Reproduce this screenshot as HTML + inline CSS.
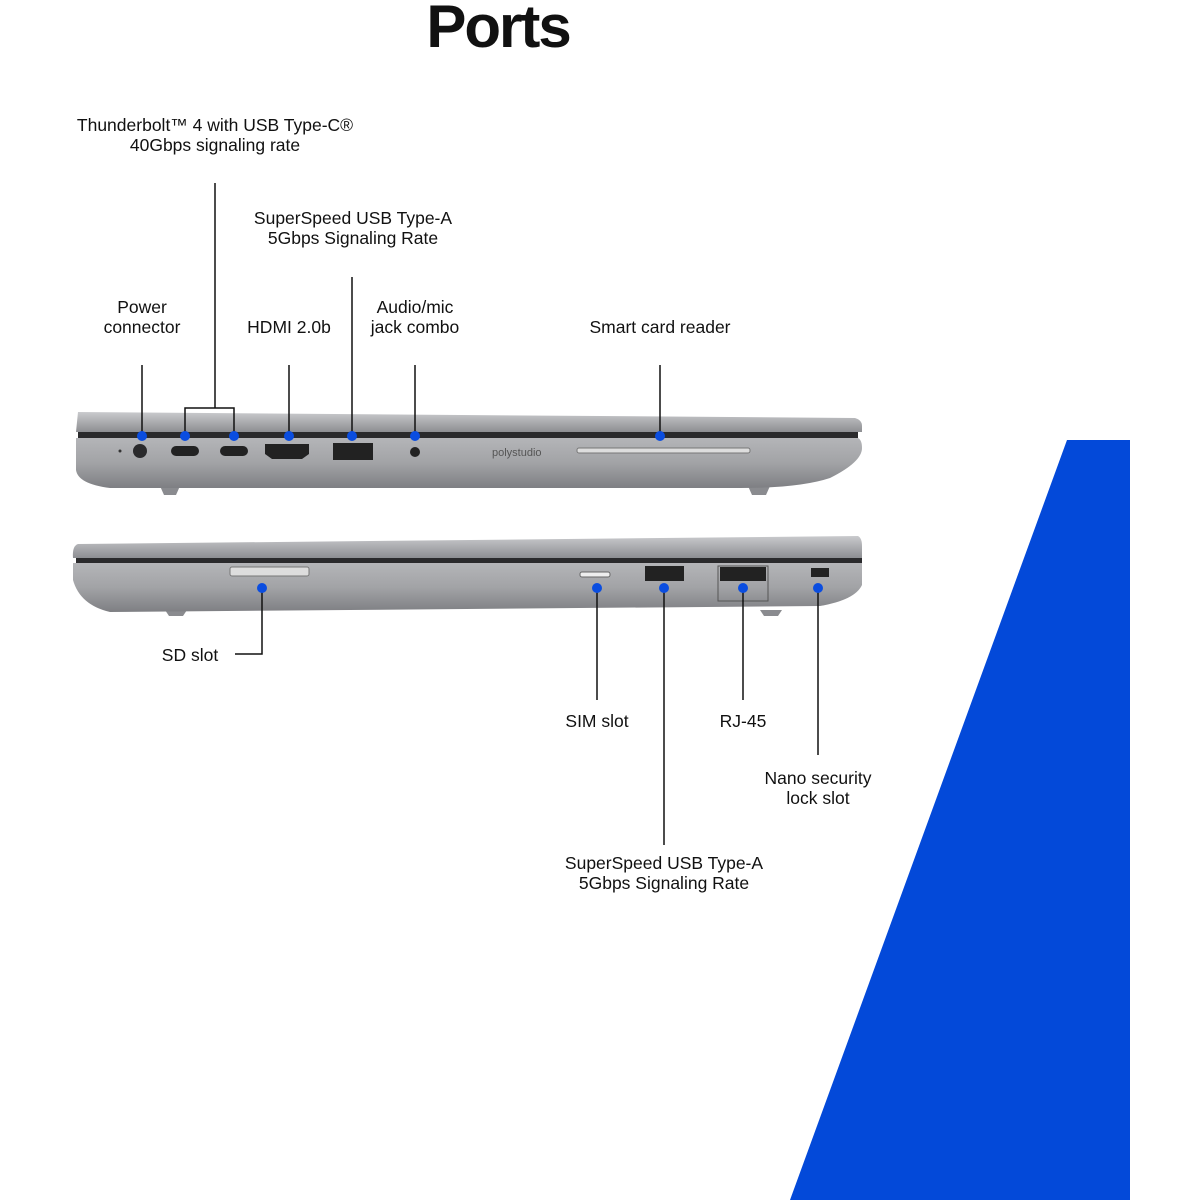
<!DOCTYPE html>
<html><head><meta charset="utf-8"><style>
html,body{margin:0;padding:0;background:#fff;}
svg{display:block;}
text{font-family:"Liberation Sans",sans-serif;fill:#111;font-size:17.5px;}
</style></head><body>
<svg width="1200" height="1200" viewBox="0 0 1200 1200" xmlns="http://www.w3.org/2000/svg">
<defs>
<linearGradient id="lid" x1="0" y1="0" x2="0" y2="1"><stop offset="0" stop-color="#c9cacd"/><stop offset="1" stop-color="#8d8e92"/></linearGradient>
<linearGradient id="base" x1="0" y1="0" x2="0" y2="1"><stop offset="0" stop-color="#b4b5b8"/><stop offset="0.5" stop-color="#a2a3a6"/><stop offset="1" stop-color="#7e7f83"/></linearGradient>
</defs>
<polygon points="1067,440 1130,440 1130,1200 790,1200" fill="#0349d9"/>
<text x="498" y="47" text-anchor="middle" style="font-size:60px;font-weight:bold;letter-spacing:-2px">Ports</text>

<!-- top laptop -->
<path d="M160,486 L180,486 L176,495 L164,495 Z" fill="#8a8b8f"/>
<path d="M748,486 L770,486 L766,495 L752,495 Z" fill="#8a8b8f"/>
<path d="M78,412 L855,418 Q862,420 862,426 L862,432 L76,432 Z" fill="url(#lid)"/>
<rect x="78" y="432" width="780" height="6" fill="#2a2a2c"/>
<path d="M76,438 L858,438 Q862,440 862,448 Q862,462 830,478 Q800,488 740,488 L110,488 Q78,484 76,470 Z" fill="url(#base)"/>
<circle cx="140" cy="451" r="7" fill="#2a2a2c"/><circle cx="120" cy="451" r="1.5" fill="#333"/>
<rect x="171" y="446" width="28" height="10" rx="5" fill="#222"/>
<rect x="220" y="446" width="28" height="10" rx="5" fill="#222"/>
<path d="M265,444 L309,444 L309,454 L302,459 L272,459 L265,454 Z" fill="#222"/>
<rect x="333" y="443" width="40" height="17" fill="#222"/>
<circle cx="415" cy="452" r="5" fill="#222"/>
<text x="492" y="456" style="font-size:11px;fill:#555">polystudio</text>
<rect x="577" y="448" width="173" height="5" rx="2" fill="#ddd" stroke="#777" stroke-width="1"/>

<!-- bottom laptop -->
<path d="M165,610 L187,610 L183,616 L169,616 Z" fill="#8a8b8f"/>
<path d="M760,610 L782,610 L778,616 L764,616 Z" fill="#8a8b8f"/>
<path d="M78,544 L858,536 Q862,538 862,546 L862,558 L73,558 Q72,546 78,544 Z" fill="url(#lid)"/>
<rect x="76" y="558" width="786" height="5" fill="#2a2a2c"/>
<path d="M73,563 L862,563 L862,585 Q855,600 820,606 L110,612 Q80,605 73,580 Z" fill="url(#base)"/>
<rect x="230" y="567" width="79" height="9" rx="2" fill="#ddd" stroke="#777"/>
<rect x="580" y="572" width="30" height="5" rx="2" fill="#eee" stroke="#666"/>
<rect x="645" y="566" width="39" height="15" fill="#222"/>
<rect x="718" y="566" width="50" height="35" fill="none" stroke="#555"/>
<rect x="720" y="567" width="46" height="14" fill="#222"/>
<rect x="811" y="568" width="18" height="9" fill="#222"/>

<!-- leader lines -->
<g stroke="#111" stroke-width="1.5" fill="none">
<line x1="142" y1="365" x2="142" y2="436"/>
<line x1="215" y1="183" x2="215" y2="408"/>
<polyline points="185,436 185,408 234,408 234,436"/>
<line x1="289" y1="365" x2="289" y2="436"/>
<line x1="352" y1="277" x2="352" y2="436"/>
<line x1="415" y1="365" x2="415" y2="436"/>
<line x1="660" y1="365" x2="660" y2="436"/>
<polyline points="262,588 262,654 235,654"/>
<line x1="597" y1="588" x2="597" y2="700"/>
<line x1="664" y1="588" x2="664" y2="845"/>
<line x1="743" y1="588" x2="743" y2="700"/>
<line x1="818" y1="588" x2="818" y2="755"/>
</g>
<g fill="#0a4de0">
<circle cx="142" cy="436" r="5"/><circle cx="185" cy="436" r="5"/><circle cx="234" cy="436" r="5"/>
<circle cx="289" cy="436" r="5"/><circle cx="352" cy="436" r="5"/><circle cx="415" cy="436" r="5"/><circle cx="660" cy="436" r="5"/>
<circle cx="262" cy="588" r="5"/><circle cx="597" cy="588" r="5"/><circle cx="664" cy="588" r="5"/><circle cx="743" cy="588" r="5"/><circle cx="818" cy="588" r="5"/>
</g>

<g text-anchor="middle">
<text x="215" y="131">Thunderbolt™ 4 with USB Type-C®</text>
<text x="215" y="151">40Gbps signaling rate</text>
<text x="353" y="224">SuperSpeed USB Type-A</text>
<text x="353" y="244">5Gbps Signaling Rate</text>
<text x="142" y="313">Power</text>
<text x="142" y="333">connector</text>
<text x="289" y="333">HDMI 2.0b</text>
<text x="415" y="313">Audio/mic</text>
<text x="415" y="333">jack combo</text>
<text x="660" y="333">Smart card reader</text>
<text x="190" y="661">SD slot</text>
<text x="597" y="727">SIM slot</text>
<text x="743" y="727">RJ-45</text>
<text x="818" y="784">Nano security</text>
<text x="818" y="804">lock slot</text>
<text x="664" y="869">SuperSpeed USB Type-A</text>
<text x="664" y="889">5Gbps Signaling Rate</text>
</g>
</svg>
</body></html>
